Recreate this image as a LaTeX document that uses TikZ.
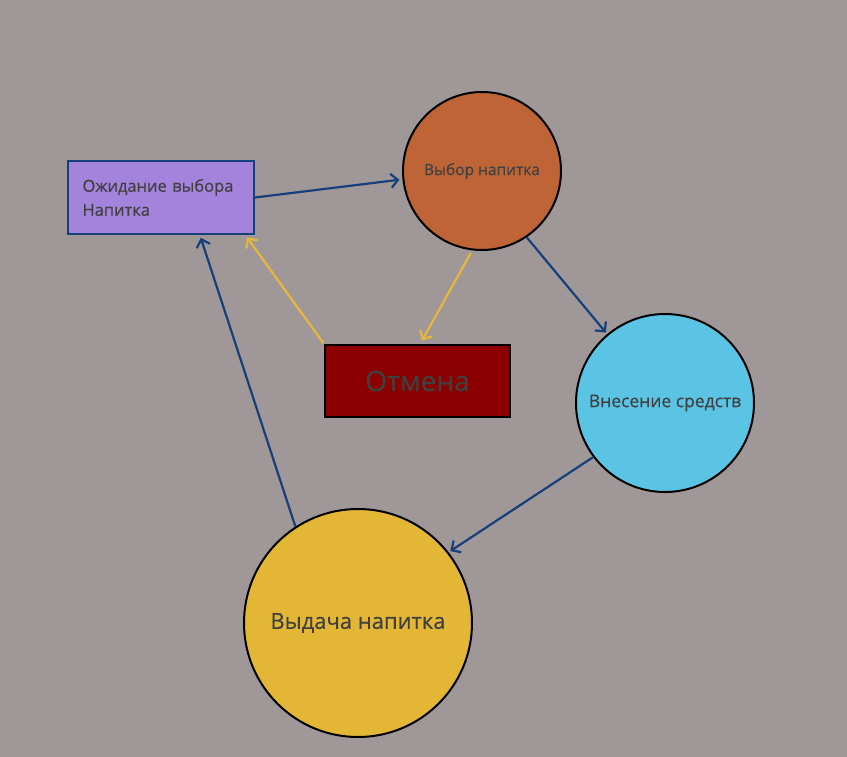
\documentclass[tikz,border=0pt]{standalone}
\usepackage{fontspec}
\setmainfont[FakeBold=0.5]{Open Sans}
\usetikzlibrary{arrows.meta}
\definecolor{bgcol}{HTML}{A09898}
\definecolor{waitcol}{HTML}{A383DC}
\definecolor{choicecol}{HTML}{BE6437}
\definecolor{fundscol}{HTML}{5BC4E5}
\definecolor{givecol}{HTML}{E3B735}
\definecolor{cancelcol}{HTML}{8B0000}
\definecolor{navy}{HTML}{173F7A}
\definecolor{goldline}{HTML}{E5B83A}
\definecolor{txtcol}{HTML}{404040}
\begin{document}
\begin{tikzpicture}[x=1pt,y=-1pt,
  state/.style={circle,draw=black,line width=2pt,text=txtcol,inner sep=0pt},
  flow/.style={draw=navy,line width=2.2pt,-{Straight Barb[length=7pt,width=14pt]}},
  back/.style={draw=goldline,line width=2.2pt,-{Straight Barb[length=7pt,width=14pt]}}]
  % Background
  \fill[bgcol] (0,0) rectangle (847,757);
  % States
  \node[draw=navy,fill=waitcol,line width=2pt,text=txtcol,minimum height=73pt,
        text width=157pt,inner xsep=14.5pt,align=left,font=\fontsize{16.5}{24}\selectfont]
        (wait) at (161,197.5) {Ожидание выбора\\Напитка};
  \node[state,fill=choicecol,minimum size=158pt,font=\fontsize{15.5}{18}\selectfont]
        (choice) at (482,171) {Выбор напитка};
  \node[state,fill=fundscol,minimum size=178pt,font=\fontsize{17.5}{20}\selectfont]
        (funds) at (665,403) {Внесение средств};
  \node[state,fill=givecol,minimum size=228pt,font=\fontsize{22}{26}\selectfont]
        (give) at (358,623) {Выдача напитка};
  \node[draw=black,fill=cancelcol,line width=2pt,text=txtcol,minimum width=185pt,
        minimum height=72pt,font=\fontsize{28}{32}\selectfont]
        (cancel) at (417.5,381) {Отмена};
  % Main cycle
  \draw[flow,shorten >=3pt] (wait.east) -- (choice.186);
  \draw[flow,shorten >=2pt] (choice.-56) -- (funds.130);
  \draw[flow,shorten >=2pt] (funds.217) -- (give.38);
  \draw[flow,shorten >=3pt] (give.123) -- (wait.-44);
  % Cancel path
  \draw[back,shorten <=3pt,shorten >=4pt] (choice.-97) -- (cancel.86);
  \draw[back,shorten <=1pt,shorten >=3pt] (cancel.north west) -- (wait.-24);
\end{tikzpicture}
\end{document}
